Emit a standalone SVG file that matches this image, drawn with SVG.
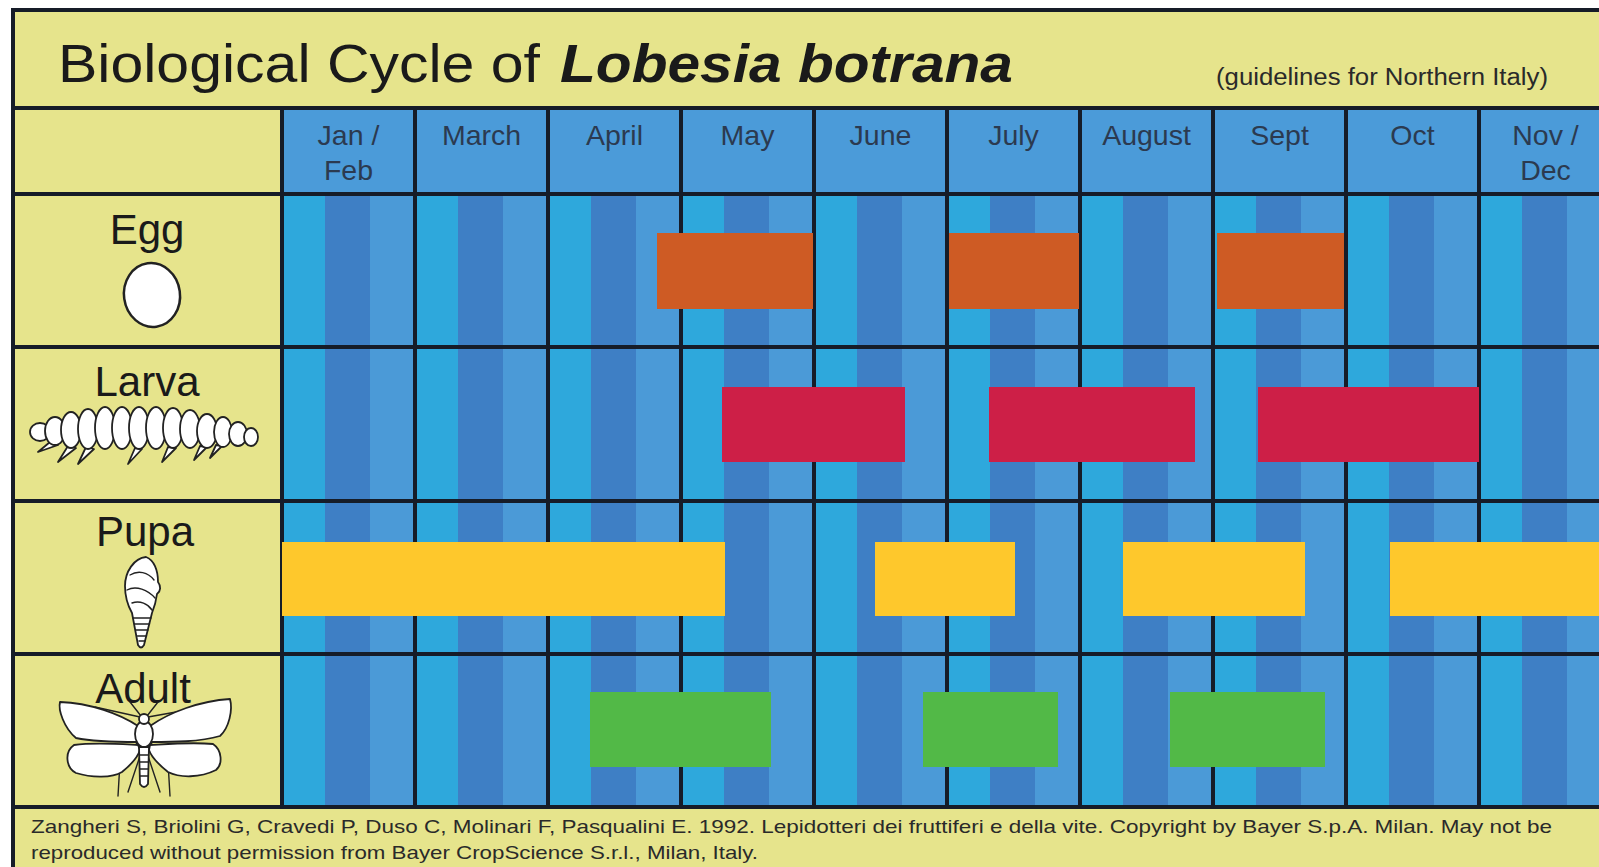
<svg xmlns="http://www.w3.org/2000/svg" width="1599" height="867" viewBox="0 0 1599 867">
<defs>
<style>
.yl{fill:#e6e48c}
.ln{stroke:#161c28;stroke-width:4;fill:none}
.mon{font-family:"Liberation Sans",Arial,sans-serif;font-size:28.5px;fill:#2b3a50;text-anchor:middle}
.lab{font-family:"Liberation Sans",Arial,sans-serif;font-size:42px;fill:#1a1a1a;text-anchor:middle}
.foot{font-family:"Liberation Sans",Arial,sans-serif;font-size:19px;fill:#2a2a2a}
.ill{fill:#fff;stroke:#222;stroke-width:1.8;stroke-linejoin:round}
.thin{fill:none;stroke:#222;stroke-width:1.4;stroke-linecap:round}
.egg{fill:#ce5b24}.lar{fill:#cd1f47}.pup{fill:#fec82c}.adu{fill:#52b947}
</style>
<pattern id="stripes" patternUnits="userSpaceOnUse" x="282" y="0" width="133" height="10">
<rect x="0" y="0" width="43" height="10" fill="#2ea8dc"/>
<rect x="43" y="0" width="45" height="10" fill="#3e7fc5"/>
<rect x="88" y="0" width="45" height="10" fill="#4b9ad7"/>
</pattern>
</defs>
<rect width="1599" height="867" fill="#fff"/>
<g id="background">
<rect class="yl" x="13" y="10" width="1586" height="98"/>
<rect class="yl" x="13" y="108" width="269" height="699"/>
<rect x="282" y="108" width="1317" height="86" fill="#4b9bd9"/>
<rect x="282" y="194" width="1317" height="613" fill="url(#stripes)"/>
<rect class="yl" x="13" y="807" width="1586" height="60"/>
</g>
<g id="title">
<text x="58" y="82" font-family="'Liberation Sans',Arial,sans-serif" font-size="53" fill="#1a1a1a" textLength="482" lengthAdjust="spacingAndGlyphs">Biological Cycle of</text>
<text x="560" y="82" font-family="'Liberation Sans',Arial,sans-serif" font-size="53" font-weight="bold" font-style="italic" fill="#1a1a1a" textLength="453" lengthAdjust="spacingAndGlyphs">Lobesia botrana</text>
<text x="1216" y="85" font-family="'Liberation Sans',Arial,sans-serif" font-size="23.5" fill="#2a2a2a" textLength="332" lengthAdjust="spacingAndGlyphs">(guidelines for Northern Italy)</text>
</g>
<g id="months">
<text class="mon" x="348.5" y="145">Jan /</text><text class="mon" x="348.5" y="180">Feb</text>
<text class="mon" x="481.5" y="145">March</text>
<text class="mon" x="614.5" y="145">April</text>
<text class="mon" x="747.5" y="145">May</text>
<text class="mon" x="880.5" y="145">June</text>
<text class="mon" x="1013.5" y="145">July</text>
<text class="mon" x="1146.5" y="145">August</text>
<text class="mon" x="1279.5" y="145">Sept</text>
<text class="mon" x="1412.5" y="145">Oct</text>
<text class="mon" x="1545.5" y="145">Nov /</text><text class="mon" x="1545.5" y="180">Dec</text>
</g>
<g id="grid">
<path class="ln" d="M11,10H1599M13,108H1599M13,194H1599M13,347H1599M13,501H1599M13,654H1599M13,807H1599"/>
<path class="ln" d="M13,8V867M282,108V807M415,108V807M548,108V807M681,108V807M814,108V807M947,108V807M1080,108V807M1213,108V807M1346,108V807M1479,108V807"/>
</g>
<g id="egg">
<text class="lab" x="147" y="244">Egg</text>
<ellipse cx="152" cy="295" rx="28" ry="32" transform="rotate(-8 152 295)" fill="#fff" stroke="#222" stroke-width="2.5"/>
</g>
<g id="larva">
<text class="lab" x="147" y="396">Larva</text>
<g class="ill">
<path d="M50,442 L38,452 L58,445Z M68,446 L58,462 L76,448Z M86,447 L78,464 L94,449Z M135,448 L128,464 L142,449Z M168,447 L162,462 L176,448Z M200,446 L194,460 L207,447Z M216,445 L210,458 L222,446Z"/>
<ellipse cx="40" cy="432" rx="10" ry="9"/>
<ellipse cx="55" cy="431" rx="10" ry="14"/>
<ellipse cx="71" cy="430" rx="10" ry="18"/>
<ellipse cx="88" cy="429" rx="10" ry="20"/>
<ellipse cx="105" cy="428" rx="10" ry="21"/>
<ellipse cx="122" cy="428" rx="10" ry="21"/>
<ellipse cx="139" cy="428" rx="10" ry="21"/>
<ellipse cx="156" cy="428" rx="10" ry="21"/>
<ellipse cx="173" cy="428" rx="10" ry="20"/>
<ellipse cx="190" cy="429" rx="10" ry="19"/>
<ellipse cx="207" cy="431" rx="10" ry="17"/>
<ellipse cx="223" cy="432" rx="9" ry="15"/>
<ellipse cx="238" cy="434" rx="9" ry="12"/>
<ellipse cx="251" cy="437" rx="7" ry="9"/>
</g>
</g>
<g id="pupa">
<text class="lab" x="145" y="546">Pupa</text>
<path class="ill" d="M146,557 C154,560 158,570 158,582 C161,586 161,591 157,594 C156,602 154,608 152,613 L144,645 Q141,650 138,645 L132,613 C128,606 125,596 125,586 C125,572 134,558 146,557 Z"/>
<path class="thin" d="M130,575 C138,570 148,572 154,580 M127,590 C136,585 148,590 155,598 M132,603 C140,600 148,604 152,610 M133,618 H151 M134.5,624 H149.5 M136,630 H148 M137.5,636 H146.5 M139,641 H145"/>
</g>
<g id="adult">
<text class="lab" x="143" y="703">Adult</text>
<path class="thin" d="M140,717 L95,707 M148,717 L193,709 M141,716 L130,702 M147,716 L158,702 M138,742 L120,762 L118,796 M150,742 L168,762 L170,796 M140,756 L128,792 M148,756 L160,792"/>
<path class="ill" d="M138,745 C120,744 95,742 74,745 C64,752 66,768 76,773 C92,778 112,778 122,772 C132,764 138,756 140,750 Z"/>
<path class="ill" d="M150,745 C168,744 192,742 213,744 C222,750 223,764 216,770 C200,778 180,778 168,772 C158,764 151,756 149,750 Z"/>
<path class="ill" d="M138,726 C120,714 90,703 60,702 C58,710 64,728 76,738 C95,742 120,742 138,742 Z"/>
<path class="ill" d="M150,726 C170,712 200,701 230,699 C233,710 229,728 220,736 C200,742 172,742 150,742 Z"/>
<path class="ill" d="M139,747 L149,747 L148,784 Q144,790 140,784 Z"/>
<path class="thin" d="M139.5,755 H148.5 M139.7,762 H148.3 M140,769 H148 M140.3,776 H147.7"/>
<ellipse class="ill" cx="144" cy="734" rx="9" ry="13"/>
<circle class="ill" cx="144" cy="719" r="5"/>
</g>
<g id="bars">
<rect class="egg" x="657" y="233" width="156" height="76"/>
<rect class="egg" x="949" y="233" width="130" height="76"/>
<rect class="egg" x="1217" y="233" width="127" height="76"/>
<rect class="lar" x="722" y="387" width="183" height="75"/>
<rect class="lar" x="989" y="387" width="206" height="75"/>
<rect class="lar" x="1258" y="387" width="221" height="75"/>
<rect class="pup" x="282" y="542" width="443" height="74"/>
<rect class="pup" x="875" y="542" width="140" height="74"/>
<rect class="pup" x="1123" y="542" width="182" height="74"/>
<rect class="pup" x="1390" y="542" width="209" height="74"/>
<rect class="adu" x="590" y="692" width="181" height="75"/>
<rect class="adu" x="923" y="692" width="135" height="75"/>
<rect class="adu" x="1170" y="692" width="155" height="75"/>
</g>
<g id="footer">
<text class="foot" x="31" y="833" textLength="1521" lengthAdjust="spacingAndGlyphs">Zangheri S, Briolini G, Cravedi P, Duso C, Molinari F, Pasqualini E. 1992. Lepidotteri dei fruttiferi e della vite.  Copyright by Bayer S.p.A. Milan.  May not be</text>
<text class="foot" x="31" y="859" textLength="727" lengthAdjust="spacingAndGlyphs">reproduced without permission from Bayer CropScience S.r.l., Milan, Italy.</text>
</g>
</svg>
